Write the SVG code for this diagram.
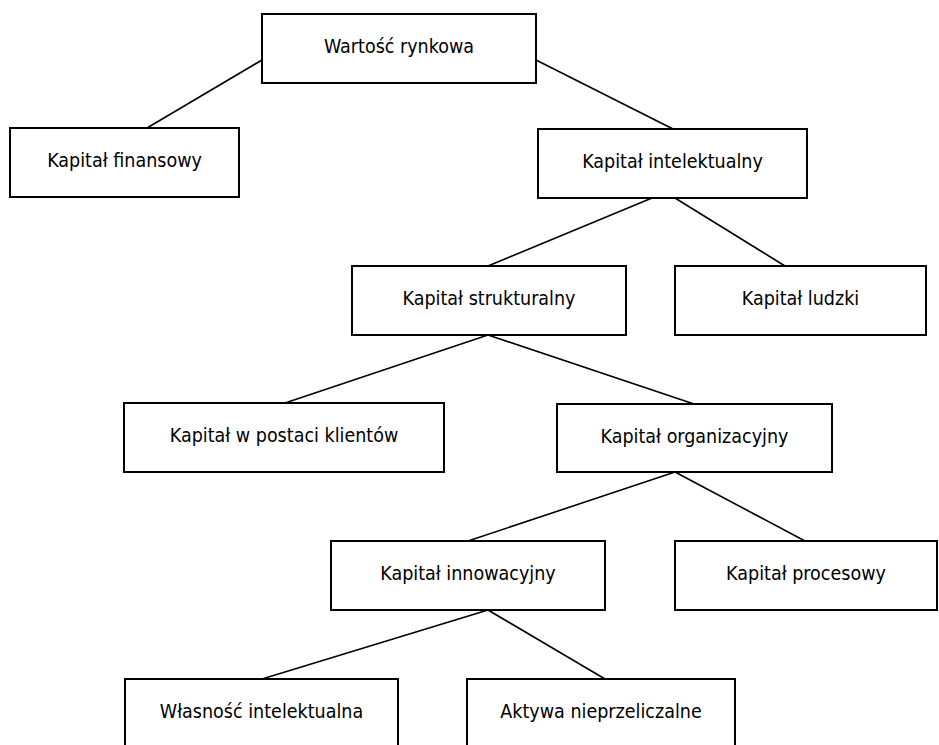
<svg xmlns="http://www.w3.org/2000/svg" width="939" height="745" viewBox="0 0 939 745">
<style>
.box{fill:#fff;stroke:#000;stroke-width:2}
.lbl{font-family:"DejaVu Sans Condensed","DejaVu Sans",sans-serif;font-stretch:condensed;font-size:19.5px;fill:#000;text-anchor:middle}
.con line{stroke:#000;stroke-width:1.6}
</style>
<rect width="939" height="745" fill="#fff"/>
<g id="connectors" class="con">
<line x1="262" y1="60" x2="147" y2="128"/>
<line x1="536" y1="60" x2="673" y2="129"/>
<line x1="652" y1="198" x2="488" y2="266"/>
<line x1="675" y1="198" x2="785" y2="266"/>
<line x1="488" y1="335" x2="285" y2="403"/>
<line x1="488" y1="335" x2="694" y2="404"/>
<line x1="675" y1="472" x2="468" y2="541"/>
<line x1="675" y1="472" x2="805" y2="541"/>
<line x1="488" y1="610" x2="262" y2="679"/>
<line x1="488" y1="610" x2="605" y2="679"/>
</g>
<g id="wartosc"><rect class="box" x="262" y="14" width="274" height="69"/><text class="lbl" x="399" y="53">Wartość rynkowa</text></g>
<g id="finansowy"><rect class="box" x="10" y="128" width="229" height="69"/><text class="lbl" x="124.5" y="167">Kapitał finansowy</text></g>
<g id="intelektualny"><rect class="box" x="538" y="129" width="269" height="69"/><text class="lbl" x="672.5" y="168">Kapitał intelektualny</text></g>
<g id="strukturalny"><rect class="box" x="352" y="266" width="274" height="69"/><text class="lbl" x="489" y="305">Kapitał strukturalny</text></g>
<g id="ludzki"><rect class="box" x="675" y="266" width="251" height="69"/><text class="lbl" x="800.5" y="305">Kapitał ludzki</text></g>
<g id="klienci"><rect class="box" x="124" y="403" width="320" height="69"/><text class="lbl" x="284" y="442">Kapitał w postaci klientów</text></g>
<g id="organizacyjny"><rect class="box" x="557" y="404" width="275" height="68"/><text class="lbl" x="694.5" y="443">Kapitał organizacyjny</text></g>
<g id="innowacyjny"><rect class="box" x="331" y="541" width="274" height="69"/><text class="lbl" x="468" y="580">Kapitał innowacyjny</text></g>
<g id="procesowy"><rect class="box" x="675" y="541" width="262" height="69"/><text class="lbl" x="806" y="580">Kapitał procesowy</text></g>
<g id="wlasnosc"><rect class="box" x="125" y="679" width="273" height="90"/><text class="lbl" x="261.5" y="718">Własność intelektualna</text></g>
<g id="aktywa"><rect class="box" x="467" y="679" width="268" height="90"/><text class="lbl" x="601" y="718">Aktywa nieprzeliczalne</text></g>
</svg>
